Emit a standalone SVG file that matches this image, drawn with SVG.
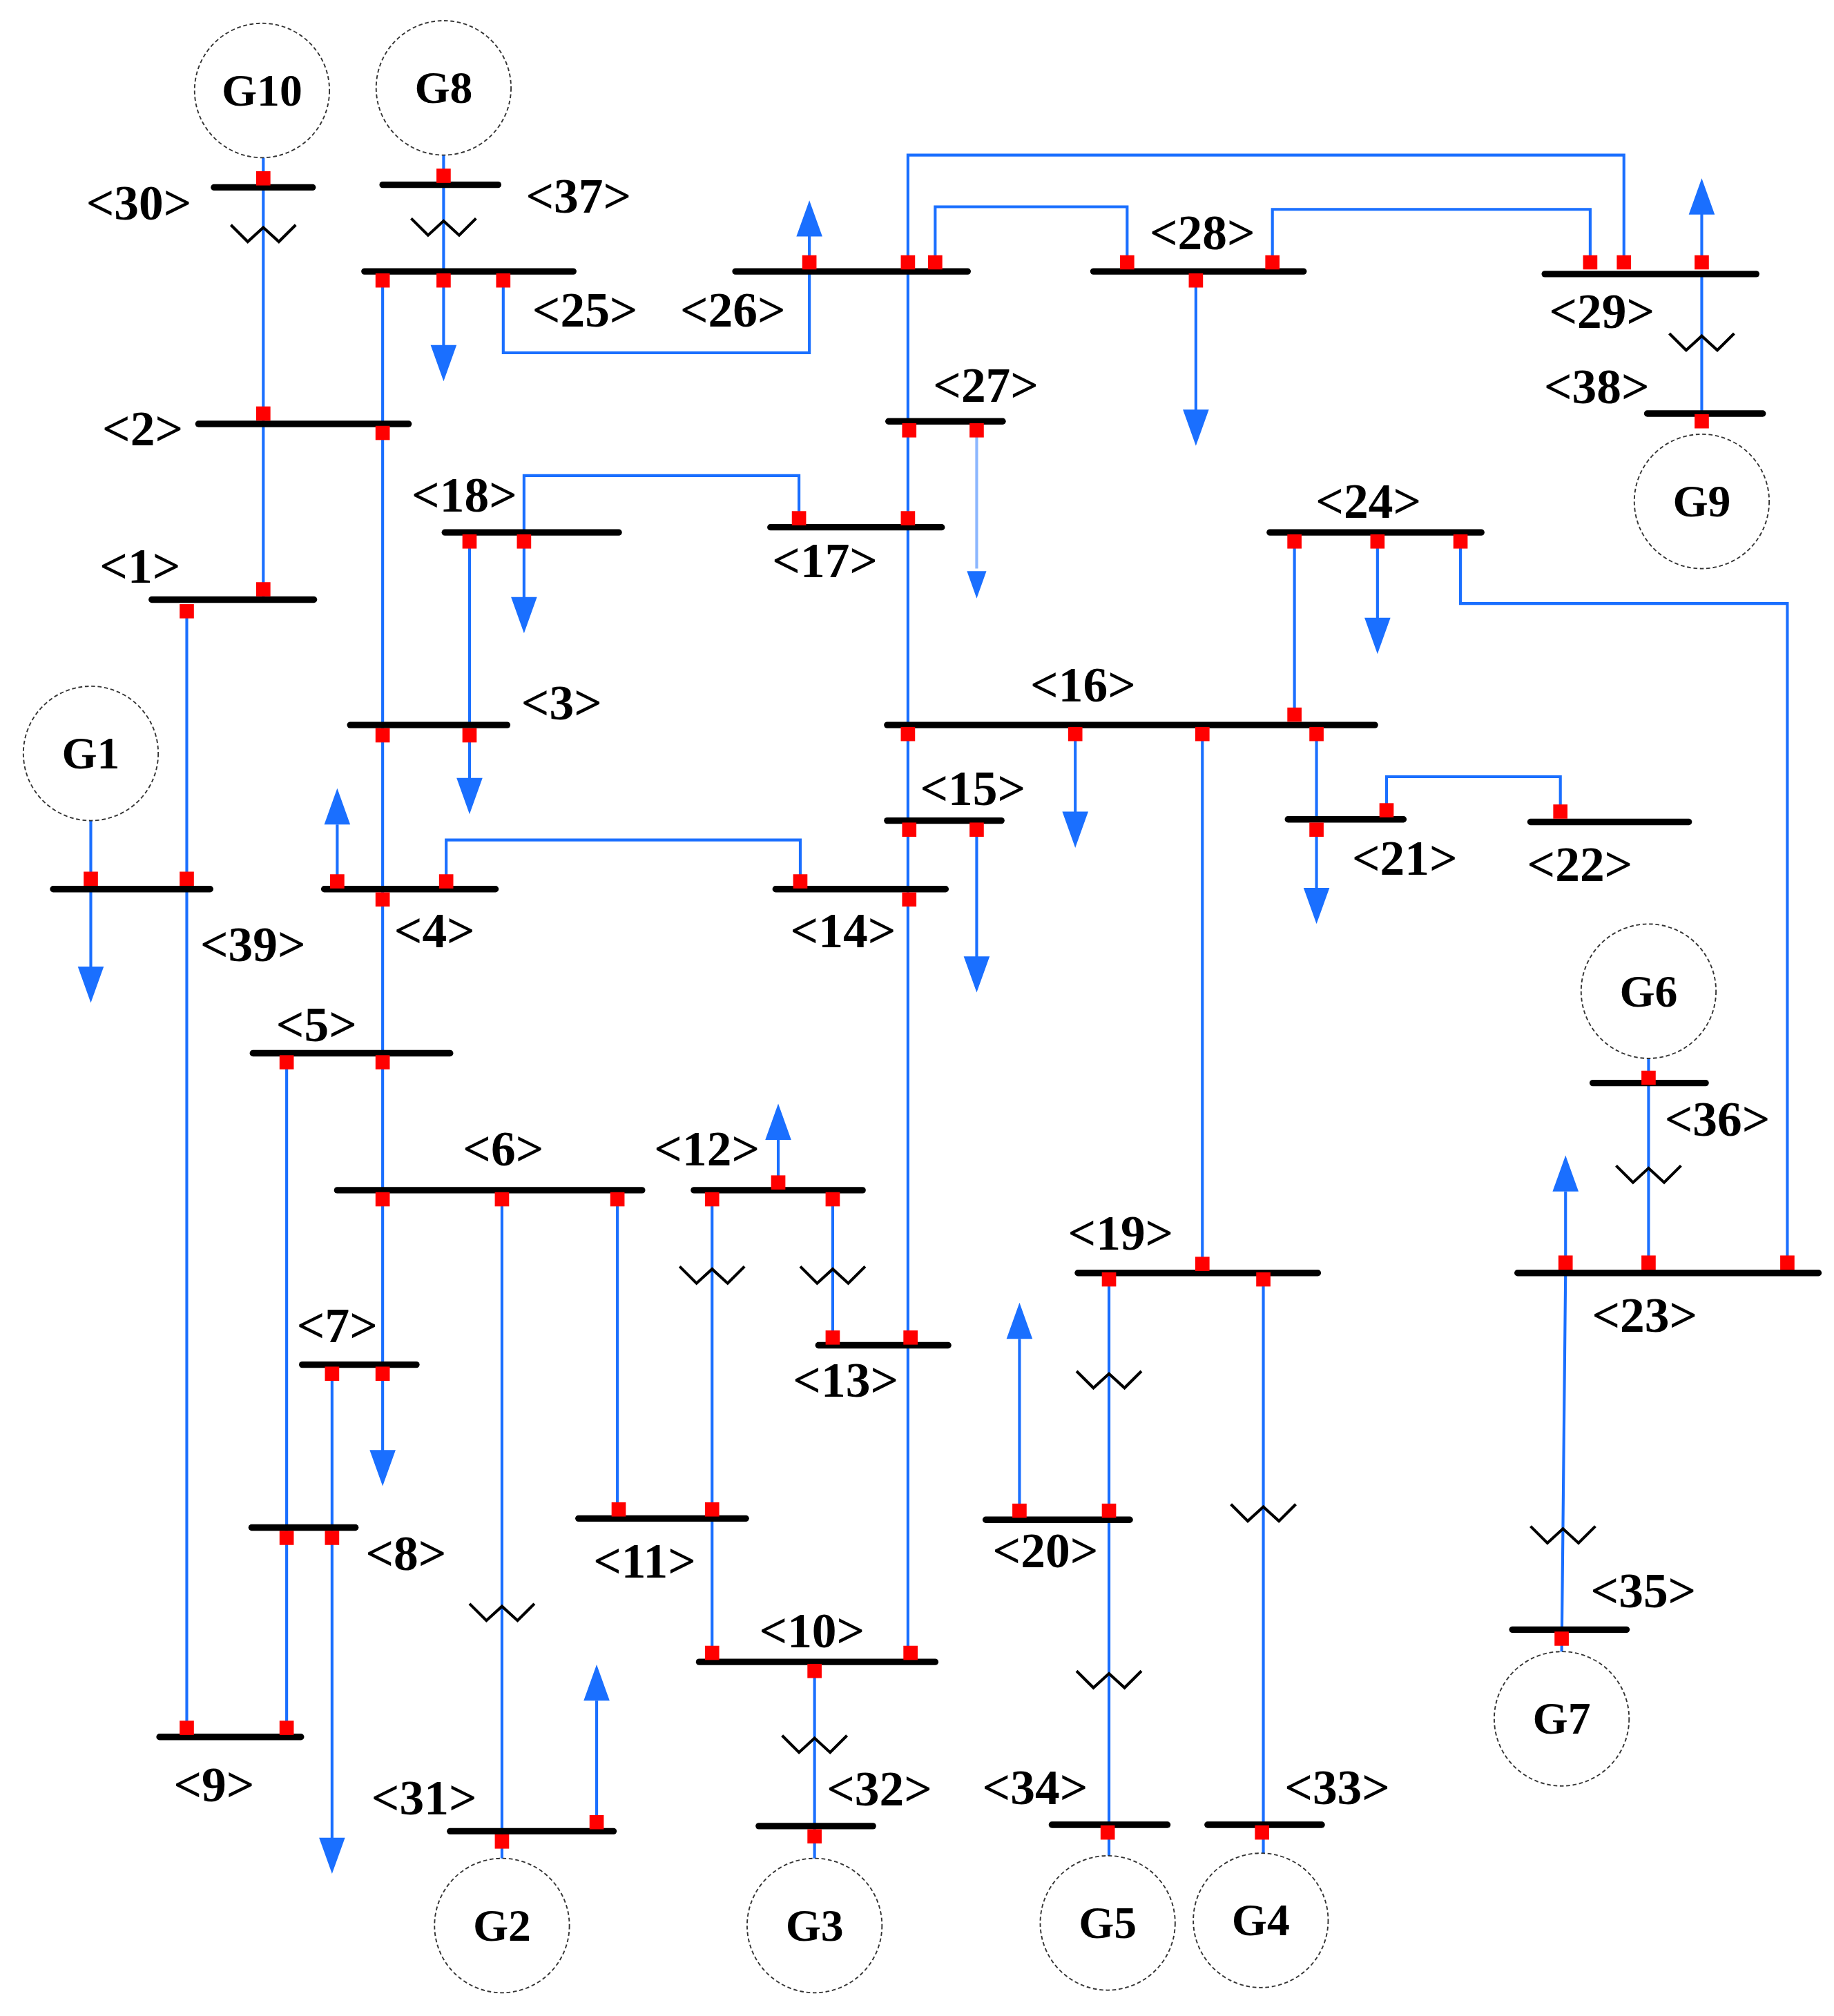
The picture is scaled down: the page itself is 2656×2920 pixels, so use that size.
<svg xmlns="http://www.w3.org/2000/svg" width="2656" height="2920" viewBox="0 0 2656 2920">
<style>
.bus{stroke:#000;stroke-width:5;stroke-linecap:round}
.ln{stroke:#1a6fff;stroke-width:2.2;fill:none}
.gen{fill:#fff;stroke:#333;stroke-width:1;stroke-dasharray:3 2}
.t{font-family:"Liberation Serif",serif;font-weight:bold;font-size:38px;text-anchor:middle;dominant-baseline:central;fill:#000}
.g{font-size:35px}
</style>
<defs>
<path id="ah" d="M-10,28 L10,28 L0,0 Z" fill="#1a6fff"/>
<rect id="s" x="-5.5" y="-5.5" width="11" height="11" fill="#f00"/>
<path id="z" d="M-25,-7 L-12,6 L0,-5 L12,6 L25,-7" stroke="#000" stroke-width="2.2" fill="none"/>
</defs>
<rect width="2656" height="2920" fill="#fff"/>
<g transform="scale(1.8784,1.8718)">
<g id="connectors">
<path class="ln" d="M203,122V328M342,120V210M342,217V280M295,210V1056M295,1063V1130"/>
<path class="ln" d="M388,217V273H624V210M624,203V170"/>
<path class="ln" d="M700,203V120H1252V203M700,210V1279M721,203V160H869V203M981,203V162H1226V203M922,217V320M1312,203V160M1312,212V320"/>
<path class="ln" d="M753,333V440" stroke-opacity="0.5"/>
<path class="ln" d="M404,412V368H616V401M404,419V465M362,419V561M362,569V605"/>
<path class="ln" d="M203,328V464M144,473V1337M70,635V688M70,688V750M260,682V638M344,682V650H617V682"/>
<path class="ln" d="M829,568V630M927,568V978M998,553V419M1015,568V634M1015,642V690M1062,419V480M1126,419V467H1378V977M1069,627V601H1203V628M753,642V742"/>
<path class="ln" d="M221,822V1337M256,1063V1425M387,928V1440M476,928V1168M460,1410V1316"/>
<path class="ln" d="M600,915V882M549,928V1279M642,928V1035M628,1293V1440"/>
<path class="ln" d="M855,990V1440M786,1169V1036M974,990V1440"/>
<path class="ln" d="M1271,818V985M1207,977V922M1207,985L1204,1280"/>
</g>
<g id="arrows">
<use href="#ah" transform="translate(342,295) rotate(180)"/>
<use href="#ah" transform="translate(295,1150) rotate(180)"/>
<use href="#ah" transform="translate(624,155)"/>
<use href="#ah" transform="translate(922,345) rotate(180)"/>
<use href="#ah" transform="translate(1312,138)"/>
<use href="#ah" transform="translate(753,463) rotate(180) scale(0.75)"/>
<use href="#ah" transform="translate(404,490) rotate(180)"/>
<use href="#ah" transform="translate(362,630) rotate(180)"/>
<use href="#ah" transform="translate(70,776) rotate(180)"/>
<use href="#ah" transform="translate(260,610)"/>
<use href="#ah" transform="translate(829,656) rotate(180)"/>
<use href="#ah" transform="translate(1015,715) rotate(180)"/>
<use href="#ah" transform="translate(1062,506) rotate(180)"/>
<use href="#ah" transform="translate(753,768) rotate(180)"/>
<use href="#ah" transform="translate(256,1450) rotate(180)"/>
<use href="#ah" transform="translate(460,1288)"/>
<use href="#ah" transform="translate(600,854)"/>
<use href="#ah" transform="translate(786,1008)"/>
<use href="#ah" transform="translate(1207,894)"/>
</g>
<g id="transformers">
<use href="#z" x="203" y="181"/><use href="#z" x="342" y="176"/><use href="#z" x="1312" y="265"/>
<use href="#z" x="387" y="1248"/><use href="#z" x="549" y="987"/><use href="#z" x="642" y="987"/>
<use href="#z" x="628" y="1350"/><use href="#z" x="855" y="1068"/><use href="#z" x="855" y="1300"/>
<use href="#z" x="974" y="1171"/><use href="#z" x="1271" y="909"/><use href="#z" x="1205" y="1188"/>
</g>
<g id="G10"><circle class="gen" cx="202" cy="70" r="52"/><text class="t g" x="202" y="70">G10</text></g>
<g id="G8"><circle class="gen" cx="342" cy="68" r="52"/><text class="t g" x="342" y="68">G8</text></g>
<g id="G1"><circle class="gen" cx="70" cy="583" r="52"/><text class="t g" x="70" y="583">G1</text></g>
<g id="G9"><circle class="gen" cx="1312" cy="388" r="52"/><text class="t g" x="1312" y="388">G9</text></g>
<g id="G6"><circle class="gen" cx="1271" cy="767" r="52"/><text class="t g" x="1271" y="767">G6</text></g>
<g id="G7"><circle class="gen" cx="1204" cy="1330" r="52"/><text class="t g" x="1204" y="1330">G7</text></g>
<g id="G2"><circle class="gen" cx="387" cy="1490" r="52"/><text class="t g" x="387" y="1490">G2</text></g>
<g id="G3"><circle class="gen" cx="628" cy="1490" r="52"/><text class="t g" x="628" y="1490">G3</text></g>
<g id="G5"><circle class="gen" cx="854" cy="1488" r="52"/><text class="t g" x="854" y="1488">G5</text></g>
<g id="G4"><circle class="gen" cx="972" cy="1486" r="52"/><text class="t g" x="972" y="1486">G4</text></g>
<g id="bus30"><line class="bus" x1="165" y1="145" x2="241" y2="145"/><use href="#s" x="203" y="138"/><text class="t" x="107" y="157">&lt;30&gt;</text></g>
<g id="bus37"><line class="bus" x1="295" y1="143" x2="384" y2="143"/><use href="#s" x="342" y="136"/><text class="t" x="446" y="152">&lt;37&gt;</text></g>
<g id="bus25"><line class="bus" x1="281" y1="210" x2="442" y2="210"/><use href="#s" x="295" y="217"/><use href="#s" x="342" y="217"/><use href="#s" x="388" y="217"/><text class="t" x="451" y="240">&lt;25&gt;</text></g>
<g id="bus26"><line class="bus" x1="567" y1="210" x2="746" y2="210"/><use href="#s" x="624" y="203"/><use href="#s" x="700" y="203"/><use href="#s" x="721" y="203"/><text class="t" x="565" y="240">&lt;26&gt;</text></g>
<g id="bus28"><line class="bus" x1="843" y1="210" x2="1005" y2="210"/><use href="#s" x="869" y="203"/><use href="#s" x="981" y="203"/><use href="#s" x="922" y="217"/><text class="t" x="927" y="180">&lt;28&gt;</text></g>
<g id="bus29"><line class="bus" x1="1191" y1="212" x2="1354" y2="212"/><use href="#s" x="1226" y="203"/><use href="#s" x="1252" y="203"/><use href="#s" x="1312" y="203"/><text class="t" x="1235" y="241">&lt;29&gt;</text></g>
<g id="bus38"><line class="bus" x1="1270" y1="320" x2="1359" y2="320"/><use href="#s" x="1312" y="326"/><text class="t" x="1231" y="299">&lt;38&gt;</text></g>
<g id="bus2"><line class="bus" x1="153" y1="328" x2="315" y2="328"/><use href="#s" x="203" y="320"/><use href="#s" x="295" y="335"/><text class="t" x="110" y="332">&lt;2&gt;</text></g>
<g id="bus27"><line class="bus" x1="685" y1="326" x2="773" y2="326"/><use href="#s" x="701" y="333"/><use href="#s" x="753" y="333"/><text class="t" x="760" y="298">&lt;27&gt;</text></g>
<g id="bus18"><line class="bus" x1="343" y1="412" x2="477" y2="412"/><use href="#s" x="362" y="419"/><use href="#s" x="404" y="419"/><text class="t" x="358" y="383">&lt;18&gt;</text></g>
<g id="bus17"><line class="bus" x1="594" y1="408" x2="726" y2="408"/><use href="#s" x="616" y="401"/><use href="#s" x="700" y="401"/><text class="t" x="636" y="434">&lt;17&gt;</text></g>
<g id="bus1"><line class="bus" x1="117" y1="464" x2="242" y2="464"/><use href="#s" x="203" y="456"/><use href="#s" x="144" y="473"/><text class="t" x="108" y="438">&lt;1&gt;</text></g>
<g id="bus24"><line class="bus" x1="979" y1="412" x2="1142" y2="412"/><use href="#s" x="998" y="419"/><use href="#s" x="1062" y="419"/><use href="#s" x="1126" y="419"/><text class="t" x="1055" y="388">&lt;24&gt;</text></g>
<g id="bus16"><line class="bus" x1="684" y1="561" x2="1060" y2="561"/><use href="#s" x="700" y="568"/><use href="#s" x="829" y="568"/><use href="#s" x="927" y="568"/><use href="#s" x="998" y="553"/><use href="#s" x="1015" y="568"/><text class="t" x="835" y="530">&lt;16&gt;</text></g>
<g id="bus3"><line class="bus" x1="270" y1="561" x2="391" y2="561"/><use href="#s" x="295" y="569"/><use href="#s" x="362" y="569"/><text class="t" x="433" y="544">&lt;3&gt;</text></g>
<g id="bus15"><line class="bus" x1="684" y1="635" x2="772" y2="635"/><use href="#s" x="701" y="642"/><use href="#s" x="753" y="642"/><text class="t" x="750" y="610">&lt;15&gt;</text></g>
<g id="bus21"><line class="bus" x1="993" y1="634" x2="1082" y2="634"/><use href="#s" x="1069" y="627"/><use href="#s" x="1015" y="642"/><text class="t" x="1083" y="664">&lt;21&gt;</text></g>
<g id="bus22"><line class="bus" x1="1180" y1="636" x2="1302" y2="636"/><use href="#s" x="1203" y="628"/><text class="t" x="1218" y="669">&lt;22&gt;</text></g>
<g id="bus39"><line class="bus" x1="41" y1="688" x2="162" y2="688"/><use href="#s" x="70" y="680"/><use href="#s" x="144" y="680"/><text class="t" x="195" y="731">&lt;39&gt;</text></g>
<g id="bus4"><line class="bus" x1="250" y1="688" x2="382" y2="688"/><use href="#s" x="260" y="682"/><use href="#s" x="344" y="682"/><use href="#s" x="295" y="696"/><text class="t" x="335" y="720">&lt;4&gt;</text></g>
<g id="bus14"><line class="bus" x1="598" y1="688" x2="729" y2="688"/><use href="#s" x="617" y="682"/><use href="#s" x="701" y="696"/><text class="t" x="650" y="720">&lt;14&gt;</text></g>
<g id="bus5"><line class="bus" x1="195" y1="815" x2="347" y2="815"/><use href="#s" x="221" y="822"/><use href="#s" x="295" y="822"/><text class="t" x="244" y="793">&lt;5&gt;</text></g>
<g id="bus6"><line class="bus" x1="260" y1="921" x2="495" y2="921"/><use href="#s" x="295" y="928"/><use href="#s" x="387" y="928"/><use href="#s" x="476" y="928"/><text class="t" x="388" y="889">&lt;6&gt;</text></g>
<g id="bus12"><line class="bus" x1="535" y1="921" x2="665" y2="921"/><use href="#s" x="600" y="915"/><use href="#s" x="549" y="928"/><use href="#s" x="642" y="928"/><text class="t" x="545" y="889">&lt;12&gt;</text></g>
<g id="bus19"><line class="bus" x1="831" y1="985" x2="1016" y2="985"/><use href="#s" x="927" y="978"/><use href="#s" x="855" y="990"/><use href="#s" x="974" y="990"/><text class="t" x="864" y="954">&lt;19&gt;</text></g>
<g id="bus23"><line class="bus" x1="1170" y1="985" x2="1402" y2="985"/><use href="#s" x="1207" y="977"/><use href="#s" x="1271" y="977"/><use href="#s" x="1378" y="977"/><text class="t" x="1268" y="1018">&lt;23&gt;</text></g>
<g id="bus36"><line class="bus" x1="1228" y1="838" x2="1315" y2="838"/><use href="#s" x="1271" y="834"/><text class="t" x="1324" y="866">&lt;36&gt;</text></g>
<g id="bus7"><line class="bus" x1="233" y1="1056" x2="321" y2="1056"/><use href="#s" x="256" y="1063"/><use href="#s" x="295" y="1063"/><text class="t" x="260" y="1026">&lt;7&gt;</text></g>
<g id="bus13"><line class="bus" x1="631" y1="1041" x2="731" y2="1041"/><use href="#s" x="642" y="1035"/><use href="#s" x="702" y="1035"/><text class="t" x="652" y="1068">&lt;13&gt;</text></g>
<g id="bus8"><line class="bus" x1="194" y1="1182" x2="274" y2="1182"/><use href="#s" x="221" y="1190"/><use href="#s" x="256" y="1190"/><text class="t" x="313" y="1202">&lt;8&gt;</text></g>
<g id="bus11"><line class="bus" x1="446" y1="1175" x2="575" y2="1175"/><use href="#s" x="477" y="1168"/><use href="#s" x="549" y="1168"/><text class="t" x="497" y="1208">&lt;11&gt;</text></g>
<g id="bus20"><line class="bus" x1="760" y1="1176" x2="871" y2="1176"/><use href="#s" x="786" y="1169"/><use href="#s" x="855" y="1169"/><text class="t" x="806" y="1200">&lt;20&gt;</text></g>
<g id="bus10"><line class="bus" x1="539" y1="1286" x2="721" y2="1286"/><use href="#s" x="549" y="1279"/><use href="#s" x="702" y="1279"/><use href="#s" x="628" y="1293"/><text class="t" x="626" y="1262">&lt;10&gt;</text></g>
<g id="bus35"><line class="bus" x1="1166" y1="1261" x2="1254" y2="1261"/><use href="#s" x="1204" y="1268"/><text class="t" x="1267" y="1231">&lt;35&gt;</text></g>
<g id="bus9"><line class="bus" x1="123" y1="1344" x2="232" y2="1344"/><use href="#s" x="144" y="1337"/><use href="#s" x="221" y="1337"/><text class="t" x="165" y="1381">&lt;9&gt;</text></g>
<g id="bus31"><line class="bus" x1="347" y1="1417" x2="473" y2="1417"/><use href="#s" x="387" y="1425"/><use href="#s" x="460" y="1410"/><text class="t" x="327" y="1391">&lt;31&gt;</text></g>
<g id="bus32"><line class="bus" x1="585" y1="1413" x2="673" y2="1413"/><use href="#s" x="628" y="1421"/><text class="t" x="678" y="1384">&lt;32&gt;</text></g>
<g id="bus34"><line class="bus" x1="811" y1="1412" x2="900" y2="1412"/><use href="#s" x="854" y="1418"/><text class="t" x="798" y="1383">&lt;34&gt;</text></g>
<g id="bus33"><line class="bus" x1="931" y1="1412" x2="1019" y2="1412"/><use href="#s" x="973" y="1418"/><text class="t" x="1031" y="1383">&lt;33&gt;</text></g>
</g>
</svg>
